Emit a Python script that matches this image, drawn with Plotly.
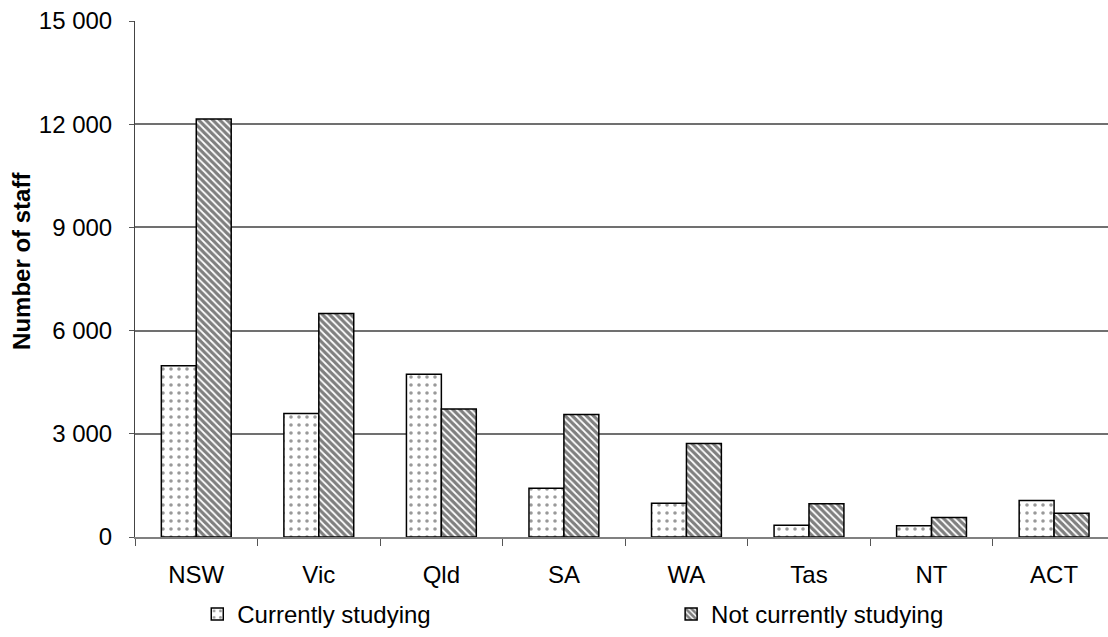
import plotly.graph_objects as go

states = ["NSW", "Vic", "Qld", "SA", "WA", "Tas", "NT", "ACT"]
currently_studying = [4980, 3590, 4730, 1420, 980, 340, 330, 1060]
not_currently_studying = [12150, 6500, 3720, 3560, 2720, 970, 565, 690]
y_ticks = [0, 3000, 6000, 9000, 12000, 15000]

FONT = "Liberation Sans, Arial, sans-serif"
FS = 24

fig = go.Figure()
fig.add_trace(go.Bar(
    x=states, y=currently_studying, name="Currently studying", legend="legend",
    marker=dict(color="white", line=dict(color="black", width=1.5),
                pattern=dict(shape=".", size=8, solidity=0.16,
                             fgcolor="#333333", bgcolor="white", fillmode="overlay")),
))
fig.add_trace(go.Bar(
    x=states, y=not_currently_studying, name="Not currently studying", legend="legend2",
    marker=dict(color="white", line=dict(color="black", width=1.5),
                pattern=dict(shape="\\", size=5, solidity=0.65,
                             fgcolor="black", bgcolor="white", fillmode="overlay")),
))

leg_common = dict(orientation="h", yanchor="bottom", xanchor="left",
                  yref="container", y=-0.025,
                  font=dict(family=FONT, size=FS), bgcolor="rgba(0,0,0,0)")
fig.update_layout(
    width=1108, height=637,
    margin=dict(l=135, r=0, t=21, b=100),
    paper_bgcolor="white", plot_bgcolor="white",
    font=dict(family=FONT, size=FS, color="black"),
    separators=". ",
    barmode="group", bargap=0.43, bargroupgap=0,
    showlegend=True,
    legend=dict(x=0.064, **leg_common),
    legend2=dict(x=0.551, **leg_common),
    annotations=[dict(text="<b>Number of staff</b>", textangle=-90,
                      xref="paper", yref="paper", x=(22 - 135) / 973, y=0.535,
                      xanchor="center", yanchor="middle", showarrow=False,
                      font=dict(family=FONT, size=FS))],
)
fig.update_xaxes(
    range=[-0.5, 7.44], showline=True, linecolor="#808080", linewidth=1.5,
    ticks="outside", tickson="boundaries", ticklen=7, tickcolor="#555555",
    showgrid=False, tickfont=dict(size=FS), automargin=False,
    ticklabelstandoff=15,
)
fig.update_yaxes(
    range=[0, 15000], tickvals=y_ticks, tickformat=",d",
    showline=True, linecolor="#444444", linewidth=1,
    ticks="outside", ticklen=5, tickcolor="#555555",
    showgrid=True, gridcolor="#707070", gridwidth=1.5, zeroline=False,
    ticklabelstandoff=12, tickfont=dict(size=FS), automargin=False,
)

fig.write_html(
    "out.html",
    config={"responsive": False, "displayModeBar": False},
    post_script="document.body.style.margin='0';document.body.style.overflow='hidden';",
)
